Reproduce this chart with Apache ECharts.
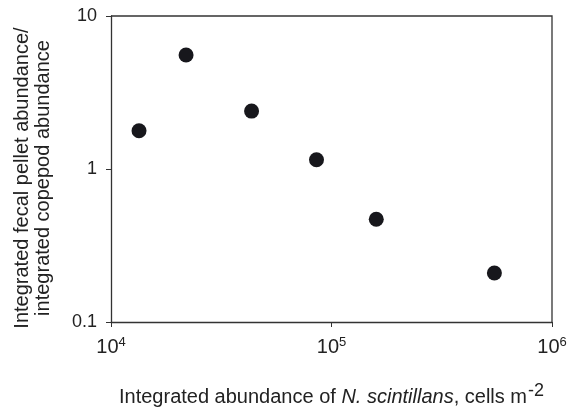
<!DOCTYPE html>
<html>
<head>
<meta charset="utf-8">
<script src="https://cdn.jsdelivr.net/npm/echarts@6/dist/echarts.min.js"></script>
<style>
  html, body { margin: 0; padding: 0; background: #fff; }
  #chart { width: 568px; height: 407px; }
</style>
</head>
<body>
<div id="chart"></div>
<script>
// N. scintillans abundance (cells m-2) vs pellet/copepod ratio
const cellAbundance = [13400, 21900, 43400, 85500, 159600, 548000];
const pelletRatio = [1.78, 5.56, 2.39, 1.15, 0.469, 0.209];
const xTickLabels = { 10000: '4', 100000: '5', 1000000: '6' };
const yTickLabels = ['0.1', '1', '10'];

const chart = echarts.init(document.getElementById('chart'));
const fontFamily = 'Liberation Sans, Arial, sans-serif';

const option = {
  animation: false,
  grid: { left: 111, right: 16, top: 16, bottom: 85, containLabel: false, outerBoundsMode: 'none' },
  xAxis: {
    type: 'log',
    logBase: 10,
    min: 1e4,
    max: 1e6,
    name: '{n|Integrated abundance of }{i|N. scintillans}{n|, cells m}{s|-2}',
    nameLocation: 'middle',
    nameGap: 60,
    nameTextStyle: {
      rich: {
        n: { fontSize: 20, color: '#222', fontFamily: fontFamily },
        i: { fontSize: 20, color: '#222', fontFamily: fontFamily, fontStyle: 'italic' },
        s: { fontSize: 18, color: '#222', fontFamily: fontFamily, verticalAlign: 'bottom', padding: [0, 0, 12, 1] }
      }
    },
    axisLine: { show: true, lineStyle: { color: '#333', width: 1.3 } },
    axisTick: { show: true, length: 5, lineStyle: { color: '#333' } },
    splitLine: { show: false },
    axisLabel: {
      margin: 14,
      formatter: function (v) {
        const key = Math.round(v);
        const e = xTickLabels[key] || String(Math.round(Math.log10(v)));
        return '{b|10}{s|' + e + '}';
      },
      rich: {
        b: { fontSize: 20, color: '#222', fontFamily: fontFamily },
        s: { fontSize: 13, color: '#222', fontFamily: fontFamily, verticalAlign: 'bottom', padding: [0, 0, 10, 0] }
      }
    }
  },
  yAxis: {
    type: 'log',
    logBase: 10,
    min: 0.1,
    max: 10,
    name: 'Integrated fecal pellet abundance/\nintegrated copepod abundance',
    nameLocation: 'middle',
    nameRotate: 90,
    nameGap: 57,
    nameTextStyle: { fontSize: 20, color: '#222', fontFamily: fontFamily, lineHeight: 21, padding: [0, 18, 0, 0] },
    axisLine: { show: true, lineStyle: { color: '#333', width: 1.3 } },
    axisTick: { show: true, length: 5, lineStyle: { color: '#333' } },
    splitLine: { show: false },
    axisLabel: {
      margin: 14,
      fontSize: 18,
      color: '#222',
      fontFamily: fontFamily,
      formatter: function (v) {
        const idx = Math.round(Math.log10(v)) + 1;
        return yTickLabels[idx] !== undefined ? yTickLabels[idx] : String(v);
      }
    }
  },
  series: [{
    type: 'scatter',
    symbol: 'circle',
    symbolSize: 15,
    itemStyle: { color: '#17171c', opacity: 1 },
    data: cellAbundance.map((x, i) => [x, pelletRatio[i]])
  }]
};

chart.setOption(option);

// top and right frame lines, placed from the grid's own coordinates
const tl = chart.convertToPixel({ gridIndex: 0 }, [1e6, 10]);
const bl = chart.convertToPixel({ gridIndex: 0 }, [1e4, 10]);
const br = chart.convertToPixel({ gridIndex: 0 }, [1e6, 0.1]);
chart.setOption({
  graphic: [{
    type: 'polyline',
    shape: { points: [bl, tl, br] },
    style: { stroke: '#333', lineWidth: 1.3, fill: null }
  }]
});
</script>
</body>
</html>
